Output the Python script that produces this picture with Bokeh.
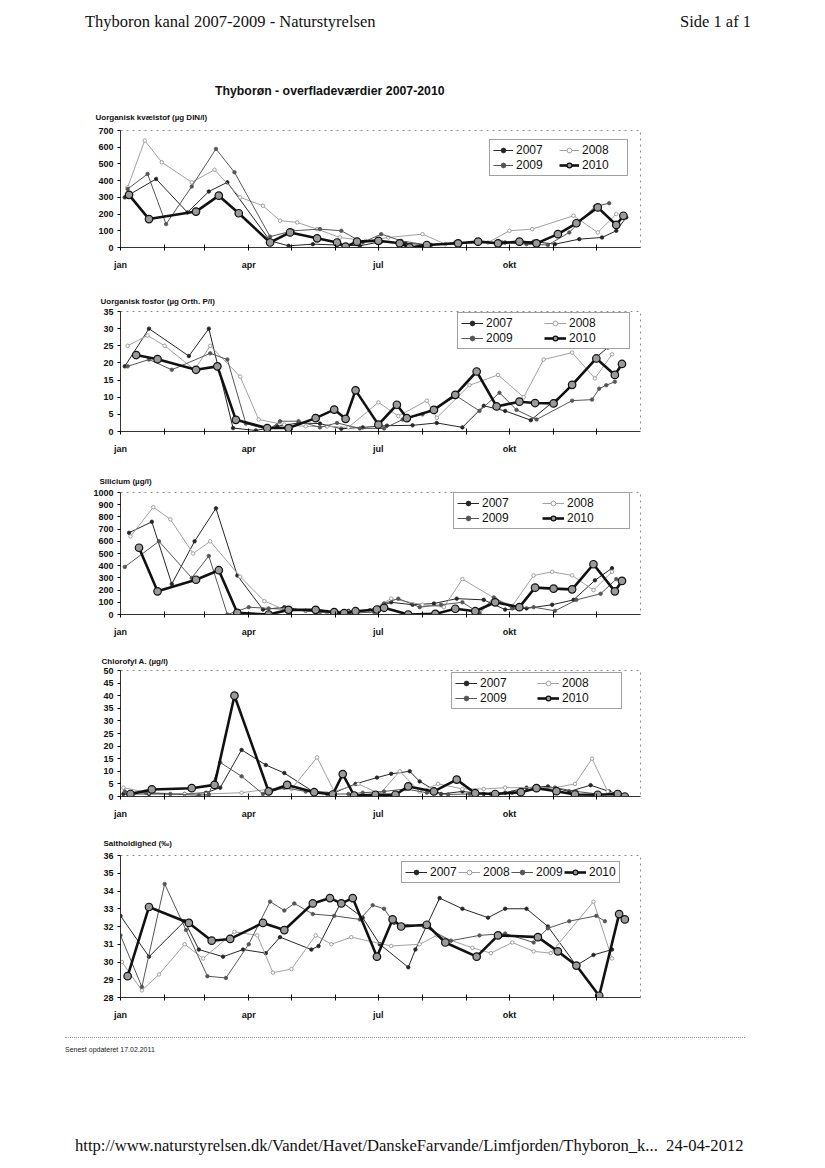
from bokeh.plotting import figure
from bokeh.models import Range1d, FixedTicker, Legend, LegendItem, Div
from bokeh.layouts import column
from bokeh.embed import file_html
from bokeh.resources import INLINE

# ---------------- data ----------------
MONTH_DAYS = [0, 31, 59, 90, 120, 151, 181, 212, 243, 273, 304, 334]
MONTH_LABELS = {0: "jan", 90: "apr", 181: "jul", 273: "okt"}
YEARS = ["2007", "2008", "2009", "2010"]
LEGEND_ORDER_2COL = ["2007", "2009", "2008", "2010"]

# Uorganisk kvaelstof (ug DIN/l)
din_d2007 = [3, 25, 47, 62, 75, 105, 118, 135, 152, 168, 183, 200, 218, 235, 252, 270, 290, 305, 322, 338, 348, 355]
din_v2007 = [300, 410, 210, 335, 390, 40, 10, 20, 15, 10, 35, 25, 15, 25, 30, 30, 35, 20, 50, 60, 100, 180]
din_d2008 = [5, 17, 29, 50, 66, 84, 100, 112, 124, 138, 154, 172, 188, 212, 228, 258, 273, 289, 318, 335, 348]
din_v2008 = [360, 640, 510, 390, 465, 300, 250, 160, 150, 110, 60, 40, 60, 80, 20, 30, 100, 110, 190, 90, 200]
din_d2009 = [5, 19, 32, 50, 67, 80, 105, 121, 140, 155, 170, 183, 197, 215, 235, 250, 268, 285, 300, 315, 333, 343]
din_v2009 = [350, 440, 140, 365, 590, 450, 65, 100, 110, 100, 30, 80, 40, 15, 30, 30, 30, 20, 15, 90, 245, 265]
din_d2010 = [6, 20, 53, 69, 83, 105, 119, 138, 152, 158, 166, 181, 196, 203, 215, 237, 251, 265, 280, 292, 307, 320, 335, 348, 353]
din_v2010 = [315, 170, 215, 310, 205, 30, 90, 55, 30, 5, 35, 40, 25, 0, 15, 25, 35, 25, 35, 25, 80, 145, 240, 135, 190]

# Uorganisk fosfor (ug Orth. P/l)
p_d2007 = [3, 20, 48, 62, 79, 95, 110, 125, 140, 155, 170, 187, 205, 222, 240, 255, 270, 288, 304, 318, 333, 342]
p_v2007 = [19, 30, 22, 30, 1, 0.3, 1.5, 2.5, 2.3, 0.8, 1.2, 1.7, 1.8, 2.5, 1.2, 7.5, 6, 3.3, 8.8, 13.5, 21.3, 24.5]
p_d2008 = [5, 19, 31, 52, 63, 84, 97, 115, 130, 145, 160, 181, 195, 215, 222, 245, 265, 283, 297, 317, 333, 345]
p_v2008 = [25, 28, 25, 18, 25, 16, 3.5, 2, 1.5, 1.5, 1.2, 8.5, 4.5, 9, 4, 13.5, 16.5, 10, 21, 23, 15.5, 22.5]
p_d2009 = [5, 20, 36, 63, 75, 88, 104, 112, 125, 140, 152, 168, 185, 198, 212, 236, 252, 266, 278, 292, 317, 331, 336, 341, 347]
p_v2009 = [19, 21, 18, 22.8, 21, 2.3, 0.5, 3, 3, 1.2, 2.5, 0.9, 0.9, 3.5, 5, 10.3, 6, 11.3, 6.3, 3.5, 9, 9.3, 12.5, 13.5, 14.5]
p_d2010 = [11, 26, 53, 68, 81, 103, 118, 137, 150, 158, 165, 181, 194, 201, 220, 235, 250, 264, 280, 291, 304, 317, 334, 347, 352]
p_v2010 = [22.3, 21.1, 18, 19, 3.4, 1, 1, 3.9, 6.4, 3.7, 12, 2, 7.8, 3.9, 6.3, 10.7, 17.5, 7.3, 8.7, 8.3, 8.2, 13.6, 21.3, 16.5, 19.7]

# Silicium (ug/l)
si_d2007 = [6, 22, 36, 52, 67, 82, 100, 115, 130, 145, 160, 175, 190, 205, 220, 236, 255, 270, 285, 303, 318, 333, 345]
si_v2007 = [670, 760, 250, 600, 870, 320, 40, 60, 30, 20, 30, 35, 100, 80, 90, 130, 120, 40, 50, 80, 120, 280, 380]
si_d2008 = [7, 23, 35, 51, 63, 84, 101, 115, 130, 145, 160, 175, 190, 212, 227, 240, 263, 275, 290, 303, 317, 332, 345]
si_v2008 = [640, 880, 780, 500, 600, 310, 110, 40, 30, 20, 20, 30, 130, 80, 60, 290, 130, 70, 320, 350, 320, 200, 350]
si_d2009 = [3, 27, 50, 62, 75, 90, 104, 120, 140, 160, 178, 185, 195, 210, 225, 240, 252, 262, 275, 290, 305, 320, 337, 348]
si_v2009 = [390, 600, 300, 480, 0, 60, 50, 40, 20, 10, 20, 90, 130, 60, 80, 100, 10, 140, 50, 60, 30, 120, 170, 290]
si_d2010 = [13, 26, 53, 69, 82, 104, 118, 137, 150, 157, 165, 180, 185, 202, 221, 235, 249, 263, 280, 291, 304, 317, 332, 347, 352]
si_v2010 = [547, 190, 285, 363, 14, 0, 38, 38, 19, 11, 27, 41, 55, 0, 5, 47, 27, 100, 60, 220, 212, 206, 412, 190, 275]

# Chlorofyl A (ug/l)
c_d2007 = [2, 20, 45, 60, 70, 85, 102, 115, 135, 150, 165, 180, 190, 203, 210, 225, 240, 255, 270, 285, 300, 315, 330, 343, 350]
c_v2007 = [1, 1, 1, 1.5, 3.5, 18.5, 12.5, 9.3, 2, 1.5, 5, 7.5, 9, 10, 6, 1, 2, 1, 1.5, 3.5, 4, 2, 4.5, 2, 1]
c_d2008 = [2, 20, 45, 60, 85, 105, 120, 138, 150, 167, 182, 196, 210, 223, 240, 255, 270, 290, 305, 319, 331, 342, 352]
c_v2008 = [3.5, 1.5, 1, 1, 1.5, 3, 3, 15.5, 2, 5, 1, 10, 2, 5, 3, 3, 3.5, 3.5, 3.5, 5, 15, 2, 0]
c_d2009 = [3, 18, 35, 55, 62, 70, 85, 100, 115, 130, 145, 160, 170, 185, 200, 215, 230, 245, 260, 275, 290, 305, 320, 335, 350]
c_v2009 = [2, 1.5, 1, 0.5, 0.8, 13.5, 8, 1, 3.5, 2, 1, 1, 1.5, 2, 3, 1.5, 0.8, 1, 1, 1.5, 3, 3.5, 2, 1, 0.5]
c_d2010 = [7, 22, 50, 66, 80, 104, 117, 136, 149, 156, 164, 179, 193, 202, 220, 236, 249, 263, 281, 292, 306, 319, 335, 349, 354]
c_v2010 = [1, 2.8, 3.3, 4.6, 40, 2, 4.6, 1.7, 0.8, 8.9, 0.4, 0.7, 0.7, 4, 2, 6.7, 1.3, 1, 1.7, 3.3, 2.1, 0.8, 0.7, 1, 0]

# Saltholdighed (promille)
s_d2007 = [0, 20, 45, 55, 72, 86, 102, 112, 134, 139, 155, 170, 182, 202, 207, 224, 240, 258, 270, 285, 300, 320, 332, 345]
s_v2007 = [32.6, 30.3, 32.3, 30.7, 30.3, 30.7, 30.5, 31.4, 30.7, 30.9, 33.4, 32.5, 31.0, 29.7, 30.7, 33.6, 33.0, 32.5, 33.0, 33.0, 32.0, 29.8, 30.4, 30.7]
s_d2008 = [1, 15, 27, 45, 58, 80, 96, 107, 120, 137, 148, 162, 190, 210, 222, 247, 260, 275, 290, 302, 332, 345]
s_v2008 = [30.0, 28.4, 29.3, 31.0, 30.2, 31.7, 31.5, 29.4, 29.6, 31.5, 31.0, 31.4, 30.9, 31.0, 31.5, 30.8, 30.5, 31.1, 30.6, 30.5, 33.4, 30.2]
s_d2009 = [0, 15, 31, 46, 61, 74, 90, 105, 115, 122, 135, 150, 168, 177, 185, 192, 213, 232, 252, 270, 290, 300, 315, 334, 340]
s_v2009 = [31.5, 28.6, 34.4, 31.8, 29.2, 29.1, 31.0, 33.4, 32.9, 33.3, 32.7, 32.6, 32.4, 33.2, 33.0, 32.2, 32.0, 31.2, 31.5, 31.6, 31.1, 31.9, 32.3, 32.6, 32.3]
s_d2010 = [5, 20, 48, 64, 77, 100, 115, 135, 147, 155, 163, 180, 191, 197, 215, 228, 250, 265, 293, 307, 320, 336, 350, 354]
s_v2010 = [29.2, 33.1, 32.2, 31.2, 31.3, 32.2, 31.8, 33.3, 33.6, 33.3, 33.6, 30.3, 32.4, 32.0, 32.1, 31.1, 30.3, 31.5, 31.4, 30.6, 29.8, 28.1, 32.7, 32.4]

# ---------------- styles ----------------
STY = {
    "2007": dict(color="#262626", lw=1.0, size=3.5, fill="#262626", mline="#262626"),
    "2008": dict(color="#a0a0a0", lw=1.0, size=3.5, fill="white", mline="#8a8a8a"),
    "2009": dict(color="#555555", lw=1.0, size=3.5, fill="#555555", mline="#555555"),
    "2010": dict(color="#111111", lw=2.6, size=7.5, fill="#9a9a9a", mline="#111111"),
}
SANS = "Liberation Sans"
PAGE_W = 817
FRAME_RIGHT = 640


def make_chart(title, series, y0, y1, ystep, height, top, frame_h, axis_x, title_x,
               title_standoff, leg_loc, leg_ncols, leg_label_w, leg_glyph_w, order):
    p = figure(width=PAGE_W, height=height, output_backend="svg", toolbar_location=None,
               x_range=Range1d(0, 365), y_range=Range1d(y0, y1),
               min_border_left=axis_x, min_border_right=PAGE_W - FRAME_RIGHT,
               min_border_top=top, min_border_bottom=height - top - frame_h)
    p.background_fill_color = "white"
    p.border_fill_color = "white"
    p.outline_line_color = "#8c8c8c"
    p.outline_line_dash = "dotted"
    p.grid.visible = False

    p.title.text = title
    p.title.align = "left"
    p.title.offset = title_x - axis_x
    p.title.standoff = title_standoff
    p.title.text_font = SANS
    p.title.text_font_size = "8px"
    p.title.text_font_style = "bold"
    p.title.text_color = "#111111"

    ticks = []
    v = y0
    while v <= y1 + 1e-9:
        ticks.append(v)
        v += ystep
    p.yaxis.ticker = FixedTicker(ticks=ticks)
    p.yaxis.major_label_text_font = SANS
    p.yaxis.major_label_text_font_size = "9px"
    p.yaxis.major_label_text_font_style = "bold"
    p.yaxis.major_label_text_color = "#111111"
    p.yaxis.major_tick_out = 3
    p.yaxis.major_tick_in = 0
    p.yaxis.minor_tick_line_color = None
    p.yaxis.major_label_standoff = 4
    p.yaxis.axis_line_color = "#333333"

    p.xaxis.ticker = FixedTicker(ticks=MONTH_DAYS)
    p.xaxis.major_label_overrides = {d: MONTH_LABELS.get(d, "") for d in MONTH_DAYS}
    p.xaxis.major_label_text_font = SANS
    p.xaxis.major_label_text_font_size = "9px"
    p.xaxis.major_label_text_font_style = "bold"
    p.xaxis.major_label_text_color = "#111111"
    p.xaxis.major_tick_out = 3
    p.xaxis.major_tick_in = 3
    p.xaxis.minor_tick_line_color = None
    p.xaxis.major_label_standoff = 9
    p.xaxis.axis_line_color = "#333333"

    items = {}
    for yr in YEARS:
        d, vals = series[yr]
        s = STY[yr]
        r1 = p.line(d, vals, line_color=s["color"], line_width=s["lw"])
        r2 = p.scatter(d, vals, marker="circle", size=s["size"], fill_color=s["fill"],
                       line_color=s["mline"], line_width=1.2 if yr == "2010" else 0.8)
        items[yr] = LegendItem(label=yr, renderers=[r1, r2])

    legend = Legend(items=[items[y] for y in order], location=leg_loc, ncols=leg_ncols, margin=0,
                    padding=3, spacing=1, label_standoff=3,
                    glyph_width=leg_glyph_w, glyph_height=12,
                    label_width=leg_label_w, label_height=12,
                    label_text_font=SANS, label_text_font_size="12px",
                    label_text_color="#111111",
                    border_line_color="#444444", border_line_width=1.3,
                    background_fill_color="white", background_fill_alpha=1.0)
    p.add_layout(legend)
    return p


p1 = make_chart("Uorganisk kvælstof (µg DIN/l)",
                {"2007": (din_d2007, din_v2007), "2008": (din_d2008, din_v2008),
                 "2009": (din_d2009, din_v2009), "2010": (din_d2010, din_v2010)},
                0, 700, 100, 183, 30, 117, 120, 95, 17, (369, 71), 2, 42, 20, LEGEND_ORDER_2COL)
p2 = make_chart("Uorganisk fosfor (µg Orth. P/l)",
                {"2007": (p_d2007, p_v2007), "2008": (p_d2008, p_v2008),
                 "2009": (p_d2009, p_v2009), "2010": (p_d2010, p_v2010)},
                0, 35, 5, 182, 28, 120, 112, 92, 12, (337, 82), 2, 57, 22, LEGEND_ORDER_2COL)
p3 = make_chart("Silicium (µg/l)",
                {"2007": (si_d2007, si_v2007), "2008": (si_d2008, si_v2008),
                 "2009": (si_d2009, si_v2009), "2010": (si_d2010, si_v2010)},
                0, 1000, 100, 180, 27, 122, 112, 91, 14, (333, 85), 2, 59, 22, LEGEND_ORDER_2COL)
p4 = make_chart("Chlorofyl A. (µg/l)",
                {"2007": (c_d2007, c_v2007), "2008": (c_d2008, c_v2008),
                 "2009": (c_d2009, c_v2009), "2010": (c_d2010, c_v2010)},
                0, 50, 5, 183, 25, 126, 112, 93, 10, (331, 87), 2, 56, 22, LEGEND_ORDER_2COL)
p5 = make_chart("Saltholdighed (‰)",
                {"2007": (s_d2007, s_v2007), "2008": (s_d2008, s_v2008),
                 "2009": (s_d2009, s_v2009), "2010": (s_d2010, s_v2010)},
                28, 36, 1, 202, 27, 142, 108, 91, 15, (281, 114), 4, 27, 22, YEARS)

header = Div(width=PAGE_W, height=100, margin=0, text=(
    '<div style="position:relative;width:817px;height:100px;">'
    '<span style="position:absolute;left:85px;top:10px;font-family:\'Liberation Serif\';'
    'font-size:16.5px;color:#111;white-space:nowrap;">Thyboron kanal 2007-2009 - Naturstyrelsen</span>'
    '<span style="position:absolute;left:680px;top:10px;font-family:\'Liberation Serif\';'
    'font-size:16.5px;color:#111;white-space:nowrap;">Side 1 af 1</span>'
    '<span style="position:absolute;left:215px;top:83px;font-family:\'Liberation Sans\';'
    'font-weight:bold;font-size:12.3px;color:#111;white-space:nowrap;">Thyborøn - overfladeværdier 2007-2010</span>'
    '</div>'))

footer = Div(width=PAGE_W, height=130, margin=0, text=(
    '<div style="position:relative;width:817px;height:130px;">'
    '<div style="position:absolute;left:65px;top:7px;width:680px;border-top:1px dotted #999;"></div>'
    '<span style="position:absolute;left:65px;top:15px;font-family:\'Liberation Sans\';'
    'font-size:7px;color:#222;white-space:nowrap;">Senest opdateret 17.02.2011</span>'
    '<span style="position:absolute;left:75px;top:104px;font-family:\'Liberation Serif\';'
    'font-size:16.6px;color:#111;white-space:nowrap;">'
    'http://www.naturstyrelsen.dk/Vandet/Havet/DanskeFarvande/Limfjorden/Thyboron_k...&nbsp;&nbsp;24-04-2012</span>'
    '</div>'))

layout = column(header, p1, p2, p3, p4, p5, footer, spacing=0)
open("out.html", "w").write(file_html(layout, INLINE))
